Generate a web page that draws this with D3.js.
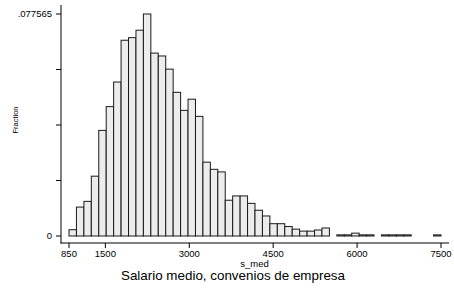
<!DOCTYPE html>
<html>
<head>
<meta charset="utf-8">
<script src="https://cdn.jsdelivr.net/npm/d3@7"></script>
<style>
  html, body { margin: 0; padding: 0; background: #fff; }
  svg { display: block; font-family: "Liberation Sans", Arial, sans-serif; }
</style>
</head>
<body>
<div id="chart"></div>
<script>
// Histogram of s_med: 50 bins of width 133 starting at 850
const binStart = 850;
const binWidth = 133;
const fractions = [
  0.0022, 0.0101, 0.0121, 0.0209, 0.0369, 0.0452, 0.0538, 0.0684, 0.0693, 0.0719,
  0.077565, 0.0639, 0.0629, 0.0583, 0.0502, 0.0439, 0.0478, 0.0418, 0.0258, 0.0233,
  0.0224, 0.0125, 0.0140, 0.0140, 0.0114, 0.0090, 0.0070, 0.0043, 0.0043, 0.0033,
  0.0024, 0.0017, 0.0017, 0.0021, 0.0028, 0, 0.0004, 0.0004, 0.0010, 0.0004,
  0.0004, 0, 0.0004, 0.0004, 0.0004, 0.0004, 0, 0, 0, 0.0004
];
const xTicks = [850, 1500, 3000, 4500, 6000, 7500];
const yMax = 0.077565;
const yTicks = [0, yMax / 4, yMax / 2, yMax * 3 / 4, yMax];
const yTickLabels = ["0", "", "", "", ".077565"];
const xTitle = "s_med";
const yTitle = "Fraction";
const caption = "Salario medio, convenios de empresa";

const W = 454, H = 289;
const svg = d3.select("#chart").append("svg").attr("width", W).attr("height", H);

const x = d3.scaleLinear().domain([850, 7500]).range([69, 441]);
const y = d3.scaleLinear().domain([0, yMax]).range([236, 14]);

const bins = fractions.map((f, i) => ({ x0: binStart + i * binWidth, x1: binStart + (i + 1) * binWidth, f }));

// bars
svg.append("g").selectAll("rect").data(bins.filter(d => d.f > 0)).join("rect")
  .attr("x", d => x(d.x0))
  .attr("y", d => y(d.f))
  .attr("width", d => x(d.x1) - x(d.x0))
  .attr("height", d => y(0) - y(d.f))
  .attr("fill", "#ececec")
  .attr("stroke", "#1a1a1a")
  .attr("stroke-width", 1);

// y axis
const yAxisX = 61;
svg.append("line").attr("x1", yAxisX).attr("x2", yAxisX).attr("y1", 5).attr("y2", 243.5)
  .attr("stroke", "#000").attr("stroke-width", 1);
const yg = svg.append("g");
yg.selectAll("line").data(yTicks).join("line")
  .attr("x1", yAxisX - 5).attr("x2", yAxisX)
  .attr("y1", d => y(d)).attr("y2", d => y(d))
  .attr("stroke", "#000").attr("stroke-width", 1);
yg.selectAll("text").data(yTicks).join("text")
  .attr("x", yAxisX - 9).attr("y", d => y(d))
  .attr("dy", "0.35em")
  .attr("text-anchor", "end")
  .attr("font-size", 9.5)
  .text((d, i) => yTickLabels[i]);

// x axis
const xAxisY = 243;
svg.append("line").attr("x1", 60.5).attr("x2", 449).attr("y1", xAxisY).attr("y2", xAxisY)
  .attr("stroke", "#000").attr("stroke-width", 1);
const xg = svg.append("g");
xg.selectAll("line").data(xTicks).join("line")
  .attr("x1", d => x(d)).attr("x2", d => x(d))
  .attr("y1", xAxisY).attr("y2", xAxisY + 5)
  .attr("stroke", "#000").attr("stroke-width", 1);
xg.selectAll("text").data(xTicks).join("text")
  .attr("x", d => x(d)).attr("y", 257)
  .attr("text-anchor", "middle")
  .attr("font-size", 9.5)
  .text(d => d);

// titles
svg.append("text").attr("x", 254.5).attr("y", 267)
  .attr("text-anchor", "middle").attr("font-size", 9.5).text(xTitle);
svg.append("text").attr("transform", "translate(18,120) rotate(-90)")
  .attr("text-anchor", "middle").attr("font-size", 7.5).text(yTitle);
svg.append("text").attr("x", 233).attr("y", 280)
  .attr("text-anchor", "middle").attr("font-size", 13.4).text(caption);
</script>
</body>
</html>
